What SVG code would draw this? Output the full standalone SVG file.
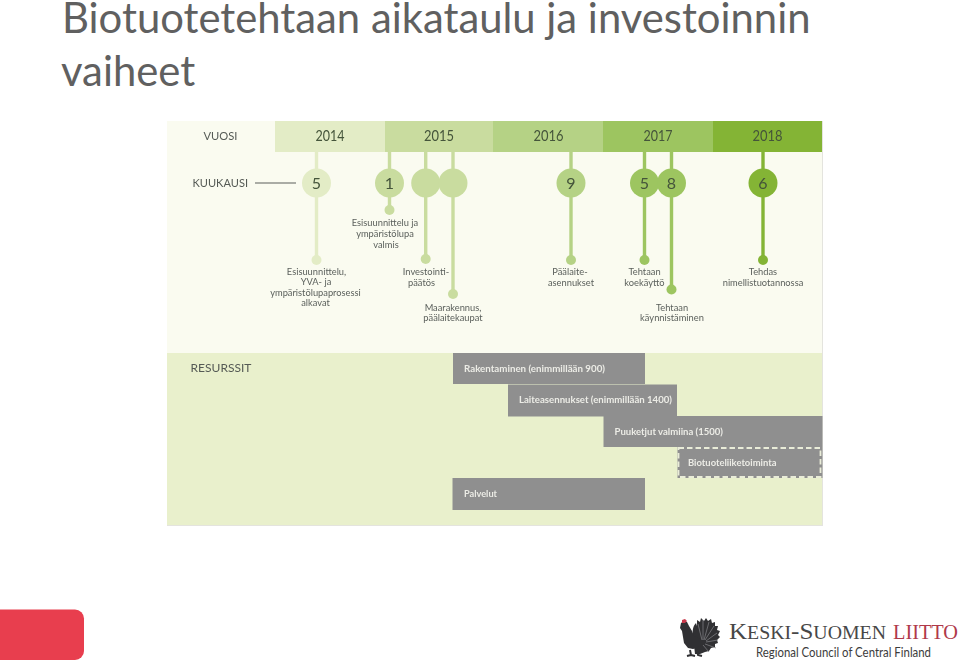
<svg xmlns="http://www.w3.org/2000/svg" width="959" height="663" viewBox="0 0 959 663">
<defs><filter id="soft" x="-2%" y="-2%" width="104%" height="104%"><feGaussianBlur stdDeviation="0.35"/></filter></defs>
<style>
text{font-family:"Lato","Open Sans","Liberation Sans",sans-serif}
.title{font-size:41.8px;fill:#606060}
.yr{font-size:15px;fill:#44543a;text-anchor:middle}
.hd{font-size:11.5px;fill:#555a55}
.num{font-size:16px;fill:#44543a;text-anchor:middle}
.lb{font-size:9.3px;fill:#5a5f5b;text-anchor:middle}
.bt{font-size:9.4px;fill:#ececE6;font-weight:700}
.bar{fill:#8f8f8f}
.c1{fill:#e3ecc6;stroke:#e3ecc6}
.c2{fill:#c9dc9f;stroke:#c9dc9f}
.c3{fill:#b5d285;stroke:#b5d285}
.c4{fill:#9dc561;stroke:#9dc561}
.c5{fill:#84b435;stroke:#84b435}
.s{stroke-width:3.4;fill:none}
.n{stroke:none}
</style>
<rect x="0" y="0" width="959" height="663" fill="#fff"/>
<text class="title" x="62" y="32.500">Biotuotetehtaan aikataulu ja investoinnin</text>
<text class="title" x="61" y="85.500">vaiheet</text>

<g id="diagram" filter="url(#soft)">
<g id="panel">
<rect x="167" y="121" width="655.500" height="232" fill="#fafbf0"/>
<rect x="167" y="353" width="655.500" height="172" fill="#e9f0cc"/>
<rect x="822" y="121" width="1" height="404" fill="#e4e4de"/>
<rect x="167" y="525" width="656" height="1" fill="#e4e4de"/>
<rect x="275" y="121" width="110" height="31" fill="#e3ecc6"/>
<rect x="385" y="121" width="108" height="31" fill="#c9dc9f"/>
<rect x="493" y="121" width="110" height="31" fill="#b5d285"/>
<rect x="603" y="121" width="110" height="31" fill="#9dc561"/>
<rect x="713" y="121" width="109" height="31" fill="#84b435"/>
<text class="hd" x="203.500" y="139.500" textLength="34" lengthAdjust="spacingAndGlyphs">VUOSI</text>
<text class="hd" x="192.500" y="187" textLength="55.500" lengthAdjust="spacingAndGlyphs">KUUKAUSI</text>
<line x1="255" y1="183" x2="296" y2="183" stroke="#5a5f5a" stroke-width="1.100"/>
<text class="yr" x="330" y="141" textLength="29" lengthAdjust="spacingAndGlyphs">2014</text>
<text class="yr" x="439" y="141" textLength="30" lengthAdjust="spacingAndGlyphs">2015</text>
<text class="yr" x="548.500" y="141" textLength="30" lengthAdjust="spacingAndGlyphs">2016</text>
<text class="yr" x="658" y="141" textLength="29" lengthAdjust="spacingAndGlyphs">2017</text>
<text class="yr" x="767.500" y="141" textLength="30" lengthAdjust="spacingAndGlyphs">2018</text>
</g>

<g id="connectors">
<line class="s c1" x1="316.500" y1="152" x2="316.500" y2="260"/>
<line class="s c2" x1="389.500" y1="152" x2="389.500" y2="210"/>
<line class="s c2" x1="425.700" y1="152" x2="425.700" y2="259"/>
<line class="s c2" x1="453" y1="152" x2="453" y2="294"/>
<line class="s c3" x1="571" y1="152" x2="571" y2="260"/>
<line class="s c4" x1="644.500" y1="152" x2="644.500" y2="260"/>
<line class="s c4" x1="671.500" y1="152" x2="671.500" y2="289"/>
<line class="s c5" x1="763" y1="152" x2="763" y2="260"/>
</g>

<g id="n-2014-5">
<circle class="c1 n" cx="316.500" cy="183" r="14.500"/><circle class="c1 n" cx="316.500" cy="260" r="5"/>
<text class="num" x="316.500" y="188.500">5</text>
<text class="lb"><tspan x="316.500" y="274.500">Esisuunnittelu,</tspan><tspan x="316" y="285">YVA- ja</tspan><tspan x="315.500" y="296">ympäristölupaprosessi</tspan><tspan x="315.500" y="306">alkavat</tspan></text>
</g>
<g id="n-2015-1">
<circle class="c2 n" cx="389.500" cy="183" r="14.500"/><circle class="c2 n" cx="389.500" cy="210" r="5"/>
<text class="num" x="389.500" y="188.500">1</text>
<text class="lb"><tspan x="385" y="226">Esisuunnittelu ja</tspan><tspan x="385" y="237">ympäristölupa</tspan><tspan x="386" y="247.500">valmis</tspan></text>
</g>
<g id="n-2015-b">
<circle class="c2 n" cx="425.700" cy="183" r="14.500"/><circle class="c2 n" cx="425.700" cy="259" r="5"/>
<text class="lb"><tspan x="426" y="274.500">Investointi-</tspan><tspan x="421.500" y="285.500">päätös</tspan></text>
</g>
<g id="n-2015-c">
<circle class="c2 n" cx="453" cy="183" r="14.500"/><circle class="c2 n" cx="453" cy="294" r="5"/>
<text class="lb"><tspan x="453" y="310.500">Maarakennus,</tspan><tspan x="453" y="321">päälaitekaupat</tspan></text>
</g>
<g id="n-2016-9">
<circle class="c3 n" cx="571" cy="183" r="14.500"/><circle class="c3 n" cx="571" cy="260" r="5"/>
<text class="num" x="571" y="188.500">9</text>
<text class="lb"><tspan x="570" y="274.500">Päälaite-</tspan><tspan x="571" y="285.500">asennukset</tspan></text>
</g>
<g id="n-2017-5">
<circle class="c4 n" cx="644.500" cy="183" r="14.500"/><circle class="c4 n" cx="644.500" cy="260" r="5"/>
<text class="num" x="644.500" y="188.500">5</text>
<text class="lb"><tspan x="644.500" y="274.500">Tehtaan</tspan><tspan x="644.500" y="285.500">koekäyttö</tspan></text>
</g>
<g id="n-2017-8">
<circle class="c4 n" cx="671.500" cy="183" r="14.500"/><circle class="c4 n" cx="671.500" cy="289.500" r="5"/>
<text class="num" x="671.500" y="188.500">8</text>
<text class="lb"><tspan x="672" y="310.500">Tehtaan</tspan><tspan x="672" y="321">käynnistäminen</tspan></text>
</g>
<g id="n-2018-6">
<circle class="c5 n" cx="763" cy="183" r="14.500"/><circle class="c5 n" cx="763" cy="260" r="5"/>
<text class="num" x="763" y="188.500">6</text>
<text class="lb"><tspan x="763" y="274.500">Tehdas</tspan><tspan x="763" y="285.500">nimellistuotannossa</tspan></text>
</g>

<g id="resurssit">
<text class="hd" x="190.500" y="372" textLength="61" lengthAdjust="spacingAndGlyphs">RESURSSIT</text>
</g>
<g id="bar-rakentaminen"><rect class="bar" x="453" y="353" width="192" height="31"/><text class="bt" x="464" y="372" textLength="141" lengthAdjust="spacingAndGlyphs">Rakentaminen (enimmillään 900)</text></g>
<g id="bar-laite"><rect class="bar" x="508" y="384.500" width="169" height="32"/><text class="bt" x="519" y="403" textLength="153" lengthAdjust="spacingAndGlyphs">Laiteasennukset (enimmillään 1400)</text></g>
<g id="bar-puuketjut"><rect class="bar" x="603.500" y="416" width="219" height="31"/><text class="bt" x="614.500" y="435" textLength="108.500" lengthAdjust="spacingAndGlyphs">Puuketjut valmiina (1500)</text></g>
<g id="bar-bio"><rect class="bar" x="677.500" y="447" width="145" height="31"/><rect x="678.500" y="448" width="142" height="29" fill="none" stroke="#e9ecd8" stroke-width="1.800" stroke-dasharray="5.500 3"/><text class="bt" x="688" y="466" textLength="88.500" lengthAdjust="spacingAndGlyphs">Biotuoteliiketoiminta</text></g>
<g id="bar-palvelut"><rect class="bar" x="452.500" y="478" width="192.500" height="32"/><text class="bt" x="464" y="497" textLength="33" lengthAdjust="spacingAndGlyphs">Palvelut</text></g>
</g>

<g id="red-tab"><rect x="-20" y="609.500" width="104" height="50.500" rx="9" fill="#e83e4e"/></g>

<g id="logo">
<path d="M693 636c-1-5 0-10 3-13l1 3 0-6 3 2 1-4 3 3 2-3 2 3 3-2 1 4 3-1 0 4 3 0-1 4 3 1-2 4 2 2-3 3 1 3-3 1 0 3-4 1-2 3-4 1-5 2-5 0z" fill="#303033"/>
<path d="M681 623l3-2 3 1 2 4 3 5 2 5 6 3 3 2-1 4-5 3-4 1-5-1-4-5-1-6-1-6-2-3z" fill="#303033"/>
<path d="M690 650l1 5-4 1 M697 650l1 5 4 1 M691 655l4 1" stroke="#303033" stroke-width="2" fill="none"/>
<path d="M702 640l-4-16M703 640l0-20M704 640l5-18M705 640l9-14M706 641l11-8M706 642l12-2M705 644l11 4M703 645l6 7" stroke="#85858a" stroke-width="0.700" fill="none"/>
<path d="M682 620l3-1 2 2-2 2-3 0z" fill="#c8384a"/>
<text x="729" y="639" style="font-family:'Liberation Serif',serif;font-size:24px" fill="#474747" textLength="157" lengthAdjust="spacingAndGlyphs">K<tspan font-size="19">ESKI</tspan>-S<tspan font-size="19">UOMEN</tspan></text>
<text x="893" y="639" style="font-family:'Liberation Serif',serif;font-size:20.500px" fill="#b0394a" textLength="65" lengthAdjust="spacingAndGlyphs">LIITTO</text>
<text x="756" y="656.500" style="font-size:12.500px" fill="#3c3c3c" textLength="175" lengthAdjust="spacingAndGlyphs">Regional Council of Central Finland</text>
</g>
</svg>
